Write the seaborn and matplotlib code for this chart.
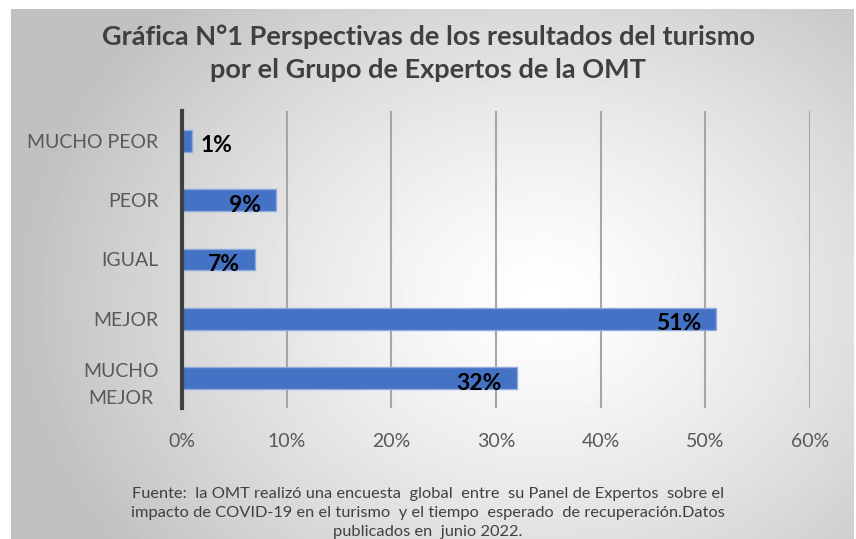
import numpy as np
import pandas as pd
import matplotlib
matplotlib.use("Agg")
import matplotlib.pyplot as plt
import seaborn as sns

categorias = ["MUCHO PEOR", "PEOR", "IGUAL", "MEJOR", "MUCHO\nMEJOR"]
valores = [1, 9, 7, 51, 32]
ticks_x = [0, 10, 20, 30, 40, 50, 60]

titulo = "Gráfica N°1 Perspectivas de los resultados del turismo\npor el Grupo de Expertos de la OMT"
fuente = ("Fuente:  la OMT realizó una encuesta  global  entre  su Panel de Expertos  sobre el\n"
          "impacto de COVID-19 en el turismo  y el tiempo  esperado  de recuperación.Datos\n"
          "publicados en  junio 2022.")

df = pd.DataFrame({"categoria": categorias, "valor": valores})

sns.set_theme(style="white")
plt.rcParams["font.family"] = ["Lato", "DejaVu Sans"]

fig = plt.figure(figsize=(8.56, 5.39), dpi=100)
fig.patch.set_facecolor("white")

# radial grey gradient panel behind everything
bg = fig.add_axes([11 / 856, 0, (854 - 11) / 856, 1 - 9 / 539])
h, w = 530, 843
yy, xx = np.mgrid[0:h, 0:w]
r = np.sqrt(((xx - 530) / 520.0) ** 2 + ((yy - 290) / 420.0) ** 2)
shade = 255 - 62 * np.clip(r, 0, 1) ** 1.3
bg.imshow(shade, cmap="gray", vmin=0, vmax=255, aspect="auto", interpolation="bilinear")
bg.set_axis_off()

ax = fig.add_axes([182 / 856, 1 - 408 / 539, (810 - 182) / 856, (408 - 111) / 539])
ax.set_facecolor("none")

sns.barplot(data=df, x="valor", y="categoria", orient="h", color="#4472C4",
            saturation=1, width=0.37, edgecolor="#8FAADC", linewidth=1, ax=ax)

ax.set_xlim(0, 60)
ax.set_ylim(4.5, -0.5)
ax.set_xticks(ticks_x)
ax.set_xticklabels([f"{t}%" for t in ticks_x], color="#595959", fontsize=14)
ax.tick_params(axis="x", length=0, pad=18)
ax.tick_params(axis="y", length=0, pad=17)
for lab in ax.get_yticklabels():
    lab.set_color("#595959")
    lab.set_fontsize(14)
    lab.set_linespacing(1.75)
    lab.set_multialignment("center")
ax.set_xlabel("")
ax.set_ylabel("")
ax.grid(axis="x", color="#A6A6A6", linewidth=1.5)
ax.set_axisbelow(True)
for s in ["top", "right", "bottom"]:
    ax.spines[s].set_visible(False)
ax.spines["left"].set_color("#404040")
ax.spines["left"].set_linewidth(3)
ax.spines["left"].set_zorder(5)

for i, v in enumerate(valores):
    if v < 5:
        ax.annotate(f"{v}%", xy=(v, i), xytext=(8, -5), textcoords="offset pixels",
                    ha="left", va="center", fontsize=16.5, fontweight="bold", color="black")
    else:
        ax.annotate(f"{v}%", xy=(v, i), xytext=(-15, -5), textcoords="offset pixels",
                    ha="right", va="center", fontsize=16.5, fontweight="bold", color="black")

fig.text(0.5, 1 - 53 / 539, titulo, ha="center", va="center", fontsize=19.5,
         fontweight="bold", color="#404040", linespacing=1.45)
fig.text(0.5, 1 - 513 / 539, fuente, ha="center", va="center", fontsize=11.8,
         color="#404040", linespacing=1.45)

fig.savefig("out.png", dpi=100)
